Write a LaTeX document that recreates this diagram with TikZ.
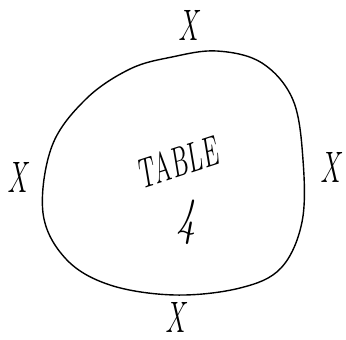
\documentclass[tikz,border=0pt]{standalone}
\begin{document}
\begin{tikzpicture}[x=1pt,y=-1pt,
  hand/.style={font=\itshape\fontsize{44}{44}\selectfont, inner sep=0pt, xscale=0.62},
  rim/.style={line width=1.4pt, line join=round}]
\useasboundingbox (0,0) rectangle (346,340);
\draw[rim] plot[smooth cycle, tension=0.6] coordinates {
 (130,69) (172,57) (217,51) (262,63) (293,100) (303,160) (302,222)
 (281,268) (240,288) (175,295) (110,285) (66,259) (43,213) (52,146) (86,99)};
\node[hand] (xt) at (188,25) {X};
\node[hand] (xl) at (17,177) {X};
\node[hand] (xr) at (330,167) {X};
\node[hand] (xb) at (175,317) {X};
\node[inner sep=0pt, rotate=18, xscale=0.6, font=\itshape\fontsize{42}{42}\selectfont] (tab) at (177,162) {TABLE};
\node[inner sep=0pt, xscale=0.75, font=\itshape\fontsize{52}{52}\selectfont] (num) at (186,222) {4};
\end{tikzpicture}
\end{document}
